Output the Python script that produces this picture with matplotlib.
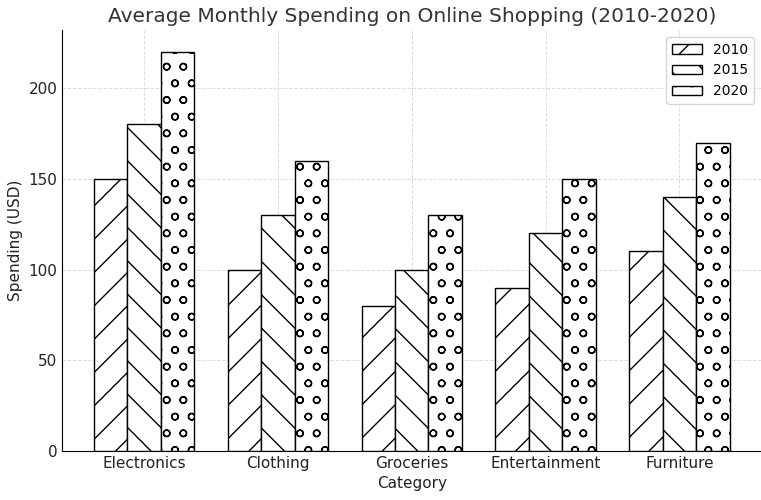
import numpy as np
import matplotlib.pyplot as plt

categories = ["Electronics", "Clothing", "Groceries", "Entertainment", "Furniture"]
years = ["2010", "2015", "2020"]
spend_2010 = [150, 100, 80, 90, 110]
spend_2015 = [180, 130, 100, 120, 140]
spend_2020 = [220, 160, 130, 150, 170]

plt.rcParams["hatch.linewidth"] = 1.0

fig = plt.figure(figsize=(7.61, 5.0), dpi=100)
ax = fig.add_axes([0.082, 0.098, 0.918, 0.842])

x = np.arange(len(categories))
width = 0.25
hatches = ["/", "\\", "o"]
for i, (year, vals) in enumerate(zip(years, [spend_2010, spend_2015, spend_2020])):
    ax.bar(x + (i - 1) * width, vals, width, label=year, color="white",
           edgecolor="black", hatch=hatches[i], linewidth=1.0, zorder=3)

ax.set_xlim(-0.61, 4.61)
ax.set_ylim(0, 232)
ax.set_xticks(x)
ax.set_xticklabels(categories, fontsize=11, color="#222222")
ax.tick_params(axis="y", labelsize=11, labelcolor="#222222")
ax.tick_params(length=0)
ax.set_yticks([0, 50, 100, 150, 200])
ax.set_title("Average Monthly Spending on Online Shopping (2010-2020)", fontsize=14.5, color="#333333")
ax.set_xlabel("Category", fontsize=11, color="#222222")
ax.set_ylabel("Spending (USD)", fontsize=11, color="#222222")
ax.grid(True, linestyle="--", color="#dddddd", linewidth=0.7, zorder=0)
ax.spines["top"].set_visible(False)
ax.spines["right"].set_visible(False)
ax.legend(loc="upper right", fontsize=10, handlelength=2.2)

plt.savefig("out.png", dpi=100)
